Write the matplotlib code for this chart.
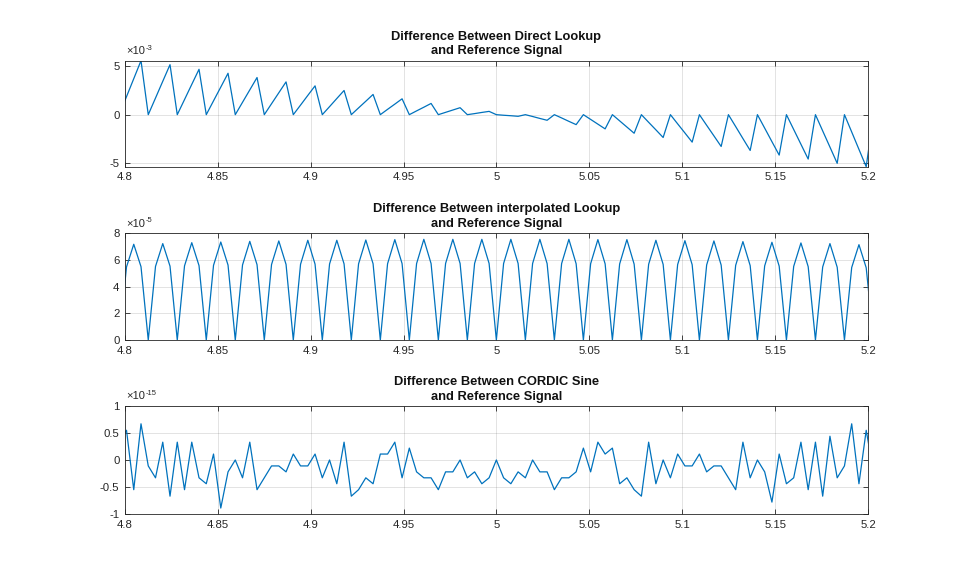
import matplotlib.pyplot as plt
from matplotlib.ticker import FuncFormatter
import numpy as np

plt.rcParams['font.family'] = ['Liberation Sans', 'DejaVu Sans']
plt.rcParams['axes.unicode_minus'] = False

# sample index runs from -1 to 103, a little past both ends of the x range
k = np.arange(-1, 104)
t = 4.80083 + 0.003904 * k

# Direct lookup minus reference (x1e-3)
direct_err = [0,
    1.86, 3.72, 5.58, 0, 1.72, 3.45, 5.17, 0, 1.56, 3.13, 4.69, 0,
    1.43, 2.85, 4.28, 0, 1.28, 2.56, 3.84, 0, 1.13, 2.26, 3.39, 0,
    0.99, 1.99, 2.98, 0, 0.83, 1.67, 2.50, 0, 0.70, 1.39, 2.09, 0,
    0.55, 1.09, 1.64, 0, 0.39, 0.77, 1.16, 0, 0.24, 0.48, 0.72, 0,
    0.11, 0.23, 0.34, 0, -0.06, -0.11, -0.17, 0, -0.19, -0.39, -0.58, 0,
    -0.34, -0.69, -1.03, 0, -0.49, -0.98, -1.47, 0, -0.64, -1.28, -1.92, 0,
    -0.79, -1.57, -2.36, 0, -0.95, -1.89, -2.84, 0, -1.10, -2.19, -3.29, 0,
    -1.23, -2.47, -3.70, 0, -1.39, -2.79, -4.18, 0, -1.53, -3.06, -4.59, 0,
    -1.68, -3.35, -5.03, 0, -1.79, -3.59, -5.38, 0]

# Interpolated lookup minus reference (x1e-5)
interp_err = [0,
    5.48, 7.18, 5.50, 0, 5.52, 7.23, 5.54, 0, 5.56, 7.30, 5.58, 0,
    5.60, 7.35, 5.62, 0, 5.63, 7.40, 5.65, 0, 5.66, 7.43, 5.67, 0,
    5.68, 7.48, 5.69, 0, 5.70, 7.48, 5.71, 0, 5.71, 7.50, 5.72, 0,
    5.72, 7.53, 5.73, 0, 5.73, 7.55, 5.73, 0, 5.74, 7.55, 5.74, 0,
    5.74, 7.55, 5.74, 0, 5.74, 7.55, 5.74, 0, 5.74, 7.55, 5.73, 0,
    5.73, 7.55, 5.72, 0, 5.72, 7.53, 5.71, 0, 5.70, 7.53, 5.69, 0,
    5.68, 7.48, 5.67, 0, 5.66, 7.45, 5.65, 0, 5.63, 7.43, 5.62, 0,
    5.60, 7.38, 5.58, 0, 5.56, 7.33, 5.54, 0, 5.52, 7.28, 5.50, 0,
    5.48, 7.23, 5.46, 0, 5.44, 7.15, 5.42, 0]

# CORDIC minus reference (x1e-15)
cordic_err = [0.33,
    0.55, -0.55, 0.67, -0.11, -0.33, 0.33, -0.67, 0.33, -0.55, 0.33,
    -0.33, -0.44, 0.11, -0.89, -0.22, 0, -0.33, 0.33, -0.55, -0.33,
    -0.11, -0.11, -0.22, 0.11, -0.11, -0.11, 0.11, -0.33, 0, -0.44,
    0.33, -0.67, -0.55, -0.33, -0.44, 0.11, 0.11, 0.33, -0.33, 0.22,
    -0.22, -0.33, -0.33, -0.55, -0.22, -0.22, 0, -0.33, -0.22, -0.44,
    -0.33, 0, -0.33, -0.44, -0.22, -0.33, 0, -0.22, -0.22, -0.55,
    -0.33, -0.33, -0.22, 0.22, -0.22, 0.33, 0.11, 0.22, -0.44, -0.33,
    -0.55, -0.67, 0.33, -0.44, 0, -0.33, 0.11, -0.11, -0.11, 0.11,
    -0.22, -0.11, -0.11, -0.33, -0.55, 0.33, -0.33, 0, -0.22, -0.78,
    0.11, -0.44, -0.33, 0.33, -0.55, 0.33, -0.67, 0.44, -0.33, -0.11,
    0.67, -0.44, 0.55, -0.22]

titles = ['Difference Between Direct Lookup\nand Reference Signal',
          'Difference Between interpolated Lookup\nand Reference Signal',
          'Difference Between CORDIC Sine\nand Reference Signal']
exponents = ['-3', '-5', '-15']
series = [direct_err, interp_err, cordic_err]
y_limits = [(min(direct_err), max(direct_err)), (0, 8), (-1, 1)]
y_ticks = [[-5, 0, 5], [0, 2, 4, 6, 8], [-1, -0.5, 0, 0.5, 1]]
x_ticks = [4.8, 4.85, 4.9, 4.95, 5.0, 5.05, 5.1, 5.15, 5.2]

# axes boxes in figure fractions [left, bottom, width, height]
boxes = [[0.1303, 0.7111, 0.7748, 0.1837],
         [0.1303, 0.4107, 0.7748, 0.1849],
         [0.1303, 0.1092, 0.7748, 0.1872]]

dark = '#262626'
fmt = FuncFormatter(lambda v, p: '%g' % round(v, 6))

fig = plt.figure(figsize=(9.59, 5.77), dpi=100)
for i in range(3):
    ax = fig.add_axes(boxes[i])
    ax.plot(t, series[i], color='#0072BD', lw=0.9)
    ax.set_xlim(4.8, 5.2)
    ax.set_ylim(y_limits[i])
    ax.set_xticks(x_ticks)
    ax.set_yticks(y_ticks[i])
    ax.xaxis.set_major_formatter(fmt)
    ax.yaxis.set_major_formatter(fmt)
    ax.grid(True, color=dark, alpha=0.15, lw=0.6)
    ax.tick_params(direction='in', length=3.5, width=0.6, top=True, right=True,
                   labelsize=8.2, colors=dark, pad=4)
    for s in ax.spines.values():
        s.set_color(dark)
        s.set_linewidth(0.6)
    ax.set_title(titles[i], fontsize=9.3, fontweight='bold', pad=4.5,
                 linespacing=1.3, color='#111111')
    # exponent label: "x10" with a raised plain-hyphen power
    ax.annotate('\u00d710', xy=(0, 1), xycoords='axes fraction', xytext=(1, 6.5),
                textcoords='offset pixels', ha='left', va='baseline', fontsize=8.0,
                color=dark)
    ax.annotate(exponents[i], xy=(0, 1), xycoords='axes fraction', xytext=(20.5, 11),
                textcoords='offset pixels', ha='left', va='baseline', fontsize=5.5,
                color=dark)

fig.savefig('out.png', dpi=100)
